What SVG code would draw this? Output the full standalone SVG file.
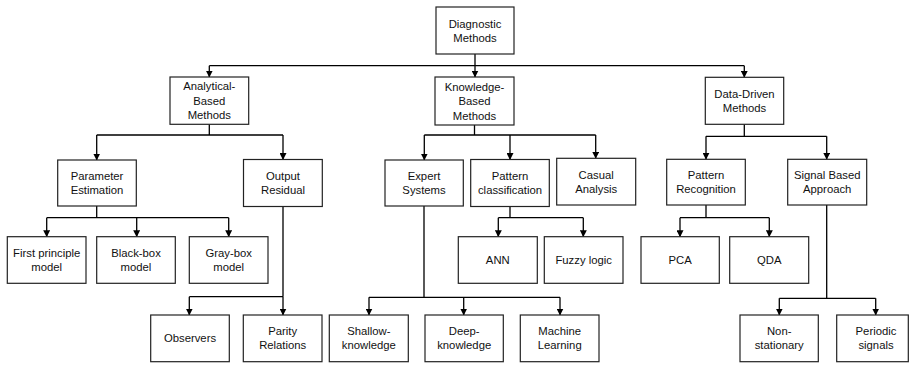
<svg xmlns="http://www.w3.org/2000/svg" width="909" height="365" viewBox="0 0 909 365">
<style>
.b{fill:#fff;stroke:#222;stroke-width:1.2}
.t{font-family:"Liberation Sans",Arial,sans-serif;font-size:11.3px;fill:#111;text-anchor:middle}
.c{fill:none;stroke:#000;stroke-width:1.3}
</style>
<defs>
<marker id="ah" markerUnits="userSpaceOnUse" markerWidth="7" markerHeight="7" refX="6.5" refY="3.5" orient="auto">
<path d="M0,0 L7,3.5 L0,7 z" fill="#000"/>
</marker>
</defs>
<rect width="909" height="365" fill="#fff"/>
<g id="connectors" class="c">
<path d="M475,54 V65.7"/>
<path d="M209.3,65.7 H744.3"/>
<path d="M209.3,65.7 V77" marker-end="url(#ah)"/>
<path d="M475,65.7 V77" marker-end="url(#ah)"/>
<path d="M744.3,65.7 V77.3" marker-end="url(#ah)"/>
<path d="M209.3,124.3 V135 M96.7,135 H283"/>
<path d="M96.7,135 V160" marker-end="url(#ah)"/>
<path d="M283,135 V159.5" marker-end="url(#ah)"/>
<path d="M474.5,125 V135 M424.3,135 H595.7"/>
<path d="M424.3,135 V160" marker-end="url(#ah)"/>
<path d="M510,135 V159.5" marker-end="url(#ah)"/>
<path d="M595.7,135 V158.3" marker-end="url(#ah)"/>
<path d="M744.3,124.3 V136.3 M706,136.3 H826.7"/>
<path d="M706,136.3 V159.3" marker-end="url(#ah)"/>
<path d="M826.7,136.3 V159.3" marker-end="url(#ah)"/>
<path d="M96.7,206 V217.7 M46.7,217.7 H228.7"/>
<path d="M46.7,217.7 V236.7" marker-end="url(#ah)"/>
<path d="M136.7,217.7 V236.7" marker-end="url(#ah)"/>
<path d="M228.7,217.7 V236.7" marker-end="url(#ah)"/>
<path d="M283,206.5 V296.7 M189.3,296.7 H283"/>
<path d="M189.3,296.7 V315" marker-end="url(#ah)"/>
<path d="M283,296.7 V315" marker-end="url(#ah)"/>
<path d="M424,206 V297.3 M369,297.3 H560"/>
<path d="M369,297.3 V315" marker-end="url(#ah)"/>
<path d="M463.7,297.3 V315" marker-end="url(#ah)"/>
<path d="M560,297.3 V315" marker-end="url(#ah)"/>
<path d="M510,206.5 V217.7 M498.3,217.7 H583.3"/>
<path d="M498.3,217.7 V236.7" marker-end="url(#ah)"/>
<path d="M583.3,217.7 V236.7" marker-end="url(#ah)"/>
<path d="M706,205 V217.7 M680,217.7 H769.3"/>
<path d="M680,217.7 V236.7" marker-end="url(#ah)"/>
<path d="M769.3,217.7 V236.7" marker-end="url(#ah)"/>
<path d="M826.7,205 V298.3 M779.3,298.3 H875.7"/>
<path d="M779.3,298.3 V315" marker-end="url(#ah)"/>
<path d="M875.7,298.3 V315" marker-end="url(#ah)"/>
</g>
<g id="diagnostic"><rect class="b" x="436" y="7" width="78" height="47"/><text class="t" x="475" y="27.5">Diagnostic</text><text class="t" x="475" y="41.5">Methods</text></g>
<g id="analytical"><rect class="b" x="170" y="77" width="78.7" height="47.3"/><text class="t" x="209.3" y="90">Analytical-</text><text class="t" x="209.3" y="104.5">Based</text><text class="t" x="209.3" y="119">Methods</text></g>
<g id="knowledge"><rect class="b" x="435" y="77" width="79" height="48"/><text class="t" x="474.5" y="90.5">Knowledge-</text><text class="t" x="474.5" y="105">Based</text><text class="t" x="474.5" y="119.5">Methods</text></g>
<g id="datadriven"><rect class="b" x="705.3" y="77.3" width="78.4" height="47"/><text class="t" x="744.5" y="97.8">Data-Driven</text><text class="t" x="744.5" y="111.8">Methods</text></g>
<g id="parameter"><rect class="b" x="57.7" y="160" width="78.6" height="46"/><text class="t" x="97" y="180">Parameter</text><text class="t" x="97" y="194">Estimation</text></g>
<g id="output"><rect class="b" x="243.5" y="159.5" width="78.8" height="47"/><text class="t" x="283" y="180">Output</text><text class="t" x="283" y="194">Residual</text></g>
<g id="expert"><rect class="b" x="385" y="160" width="78.3" height="46"/><text class="t" x="424" y="180">Expert</text><text class="t" x="424" y="194">Systems</text></g>
<g id="patternclass"><rect class="b" x="470.7" y="159.5" width="78.6" height="47"/><text class="t" x="510" y="180">Pattern</text><text class="t" x="510" y="194">classification</text></g>
<g id="casual"><rect class="b" x="556.7" y="158.3" width="79" height="46.7"/><text class="t" x="596.2" y="178.7">Casual</text><text class="t" x="596.2" y="192.7">Analysis</text></g>
<g id="patternrec"><rect class="b" x="666.7" y="159.3" width="78.6" height="45.7"/><text class="t" x="706" y="179.2">Pattern</text><text class="t" x="706" y="193.2">Recognition</text></g>
<g id="signal"><rect class="b" x="787.7" y="159.3" width="79" height="45.7"/><text class="t" x="827.2" y="179.2">Signal Based</text><text class="t" x="827.2" y="193.2">Approach</text></g>
<g id="firstprinciple"><rect class="b" x="7.3" y="236.7" width="78.7" height="46.6"/><text class="t" x="46.7" y="257">First principle</text><text class="t" x="46.7" y="271">model</text></g>
<g id="blackbox"><rect class="b" x="96.7" y="236.7" width="78.6" height="46.6"/><text class="t" x="136" y="257">Black-box</text><text class="t" x="136" y="271">model</text></g>
<g id="graybox"><rect class="b" x="189.3" y="236.7" width="78.7" height="46.6"/><text class="t" x="228.7" y="257">Gray-box</text><text class="t" x="228.7" y="271">model</text></g>
<g id="ann"><rect class="b" x="458.3" y="236.7" width="79" height="46.6"/><text class="t" x="497.8" y="264">ANN</text></g>
<g id="fuzzy"><rect class="b" x="544.3" y="236.7" width="78.7" height="46.6"/><text class="t" x="583.7" y="264">Fuzzy logic</text></g>
<g id="pca"><rect class="b" x="641" y="236.7" width="78.3" height="46.6"/><text class="t" x="680.2" y="264">PCA</text></g>
<g id="qda"><rect class="b" x="729.7" y="236.7" width="79" height="46.6"/><text class="t" x="769.2" y="264">QDA</text></g>
<g id="observers"><rect class="b" x="150.7" y="315" width="78.6" height="46.7"/><text class="t" x="190" y="342.3">Observers</text></g>
<g id="parity"><rect class="b" x="243.3" y="315" width="78.7" height="46.7"/><text class="t" x="282.7" y="335.3">Parity</text><text class="t" x="282.7" y="349.3">Relations</text></g>
<g id="shallow"><rect class="b" x="329.3" y="315" width="79" height="46.7"/><text class="t" x="368.8" y="335.3">Shallow-</text><text class="t" x="368.8" y="349.3">knowledge</text></g>
<g id="deep"><rect class="b" x="425" y="315" width="78.3" height="46.7"/><text class="t" x="464.2" y="335.3">Deep-</text><text class="t" x="464.2" y="349.3">knowledge</text></g>
<g id="machine"><rect class="b" x="520.3" y="315" width="78.7" height="46.7"/><text class="t" x="559.7" y="335.3">Machine</text><text class="t" x="559.7" y="349.3">Learning</text></g>
<g id="nonstationary"><rect class="b" x="740" y="315" width="78.3" height="46.7"/><text class="t" x="779.2" y="335.3">Non-</text><text class="t" x="779.2" y="349.3">stationary</text></g>
<g id="periodic"><rect class="b" x="836.7" y="315" width="71.6" height="46.7"/><text class="t" x="876" y="335.3">Periodic</text><text class="t" x="876" y="349.3">signals</text></g>
</svg>
